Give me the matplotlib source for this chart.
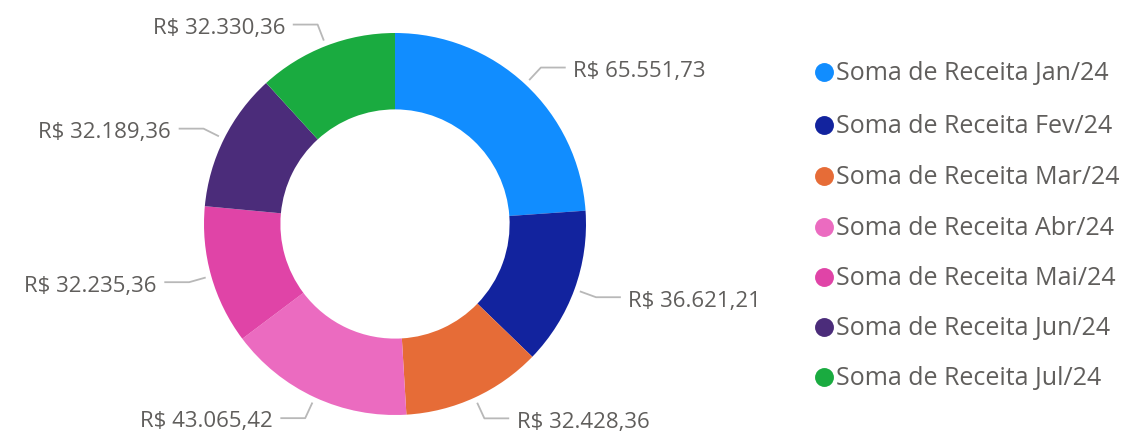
import matplotlib
matplotlib.use("Agg")
from matplotlib import pyplot as plt
import numpy as np

meses = ["Jan/24", "Fev/24", "Mar/24", "Abr/24", "Mai/24", "Jun/24", "Jul/24"]
receita = [65551.73, 36621.21, 32428.36, 43065.42, 32235.36, 32189.36, 32330.36]
rotulos = ["R$ 65.551,73", "R$ 36.621,21", "R$ 32.428,36", "R$ 43.065,42",
           "R$ 32.235,36", "R$ 32.189,36", "R$ 32.330,36"]
cores = ["#118DFF", "#12239E", "#E66C37", "#EB6BC0", "#E044A7", "#4B2C7A", "#1AAB40"]

plt.rcParams["font.family"] = ["Open Sans", "DejaVu Sans"]
cor_texto = "#605E5C"
cor_linha = "#B8B8B8"

W, H = 1127, 433
cx, cy, R = 395, 224, 191  # centro e raio em pixels

fig = plt.figure(figsize=(W / 100, H / 100), dpi=100)
ax = fig.add_axes([0, 0, 1, 1])
ax.axis("off")

wedges, _ = ax.pie(receita, colors=cores, startangle=90, counterclock=False,
                   radius=1, wedgeprops=dict(width=0.4, linewidth=0))
ax.set_aspect("auto")
ax.set_xlim(-cx / R, (W - cx) / R)
ax.set_ylim((cy - H) / R, cy / R)

################################################################################
# Rótulos com linhas de chamada
################################################################################
for w, txt in zip(wedges, rotulos):
    ang = np.deg2rad((w.theta1 + w.theta2) / 2)
    c, s = np.cos(ang), np.sin(ang)
    lado = 1 if c >= 0 else -1
    x0, y0 = 1.03 * c, 1.03 * s
    x1, y1 = 1.12 * c, 1.12 * s
    x2 = x1 + lado * 0.13
    ax.plot([x0, x1, x2], [y0, y1, y1], color=cor_linha, lw=1.3, solid_capstyle="butt")
    ax.text(x2 + lado * 0.04, y1 - 0.02, txt, ha="left" if lado > 0 else "right",
            va="center", fontsize=16, color=cor_texto)

################################################################################
# Legenda
################################################################################
leg_y = [72, 125, 176, 227, 277, 327, 377]
for m, cor, py in zip(meses, cores, leg_y):
    yy = (cy - py) / R
    ax.scatter([(824 - cx) / R], [yy], s=185, color=cor, linewidths=0)
    ax.text((836 - cx) / R, yy - 0.01, "Soma de Receita " + m, ha="left", va="center",
            fontsize=18, color=cor_texto)

fig.savefig("out.png", dpi=100)
